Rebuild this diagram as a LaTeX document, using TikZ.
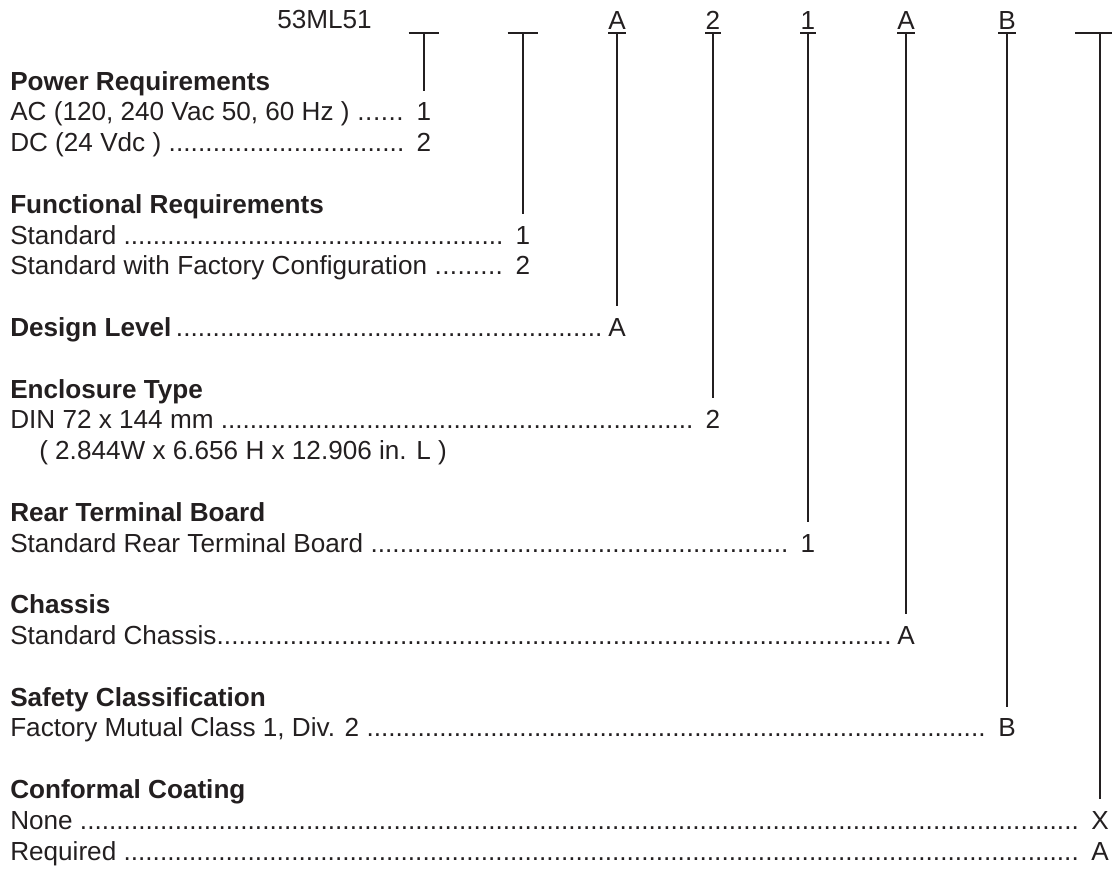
\documentclass[tikz,border=0pt]{standalone}
\usepackage{fontspec}
\setmainfont{Liberation Sans}
\usepackage{xcolor}
\usepackage{tikz}
\usetikzlibrary{positioning}

\definecolor{ink}{RGB}{35,31,32}
% label followed by a row of leader dots, in a box of fixed width
\newcommand{\dotlead}[2]{\hbox to #1{#2\xleaders\hbox{.}\hfill}}

\begin{document}
\begin{tikzpicture}[x=0.75pt,y=-0.75pt,
    every node/.style={font=\fontsize{19.6pt}{23pt}\selectfont,text=ink,inner sep=0pt},
    head/.style={anchor=base west,font=\fontsize{19.6pt}{23pt}\selectfont\bfseries},
    item/.style={anchor=base west},
    code/.style={anchor=base},
    stem/.style={ink,line width=1.8pt},
    bar/.style ={ink,line width=1.4pt},
  ]
  \useasboundingbox (0,0) rectangle (1112,869);

  % model number
  \node[anchor=base east] (model) at (372,28) {53ML51};

  % column heads (plain T or underlined code)
  \coordinate (b1) at (424,33);
  \coordinate (b2) at (523,33);
  \coordinate (b8) at (1100,33);
  \foreach \n in {b1,b2}
     \draw[bar] ([xshift=-11.5pt]\n) -- ([xshift=11.5pt]\n);
  \draw[bar] ([xshift=-18.75pt]b8) -- ([xshift=9pt]b8);
  \foreach \n/\x/\c in {3/617/A, 4/713/2, 5/808/1, 6/906/A, 7/1007/B} {
     \node[code] (h\n) at (\x,29) {\c};
     \coordinate (b\n) at (\x,33);
     \draw[bar] ([yshift=-3pt]h\n.south west) -- ([yshift=-3pt]h\n.south east);
  }

  % Power Requirements
  \node[head] (pwr) at (10,90) {Power Requirements};
  \node[item] (ac) at (10,120.8) {\dotlead{295.5pt}{AC (120, 240 Vac 50, 60 Hz ) }};
  \node[code] (c1) at (424,120.8) {1};
  \node[item] (dc) at (10,151.6) {\dotlead{295.5pt}{DC (24 Vdc ) }};
  \node[code] (c1b) at (424,151.6) {2};

  % Functional Requirements
  \node[head] (fun) at (10,213.2) {Functional Requirements};
  \node[item] (std) at (10,244) {\dotlead{369.75pt}{Standard }};
  \node[code] (c2) at (523,244) {1};
  \node[item] (stdf) at (10,274.8) {\dotlead{369.75pt}{Standard with Factory Configuration }};
  \node[code] (c2b) at (523,274.8) {2};

  % Design Level
  \node[item] (dsg) at (10,336.4) {\dotlead{444pt}{\textbf{Design Level}\,}};
  \node[code] (c3) at (617,336.4) {A};

  % Enclosure Type
  \node[head] (enc) at (10,398) {Enclosure Type};
  \node[item] (din) at (10,428.8) {\dotlead{512.25pt}{DIN 72 x 144 mm }};
  \node[code] (c4) at (713,428.8) {2};
  \node[item] (dim) at (39,459.6) {( 2.844W x 6.656 H x 12.906 in. L )};

  % Rear Terminal Board
  \node[head] (rtb) at (10,521.2) {Rear Terminal Board};
  \node[item] (srtb) at (10,552) {\dotlead{583.5pt}{Standard Rear Terminal Board }};
  \node[code] (c5) at (808,552) {1};

  % Chassis
  \node[head] (chs) at (10,613.6) {Chassis};
  \node[item] (schs) at (10,644.4) {\dotlead{660.75pt}{Standard Chassis}};
  \node[code] (c6) at (906,644.4) {A};

  % Safety Classification
  \node[head] (saf) at (10,706) {Safety Classification};
  \node[item] (fm) at (10,736.8) {\dotlead{731.25pt}{Factory Mutual Class 1, Div. 2 }};
  \node[code] (c7) at (1007,736.8) {B};

  % Conformal Coating
  \node[head] (cc) at (10,798.4) {Conformal Coating};
  \node[item] (none) at (10,829.2) {\dotlead{801pt}{None }};
  \node[code] (c8) at (1100,829.2) {X};
  \node[item] (req) at (10,860) {\dotlead{801pt}{Required }};
  \node[code] (c8b) at (1100,860) {A};

  % stems from heads down to their codes
  \foreach \i in {1,...,8}
     \draw[stem,shorten >=9pt] (b\i) -- (c\i.north);
\end{tikzpicture}
\end{document}
